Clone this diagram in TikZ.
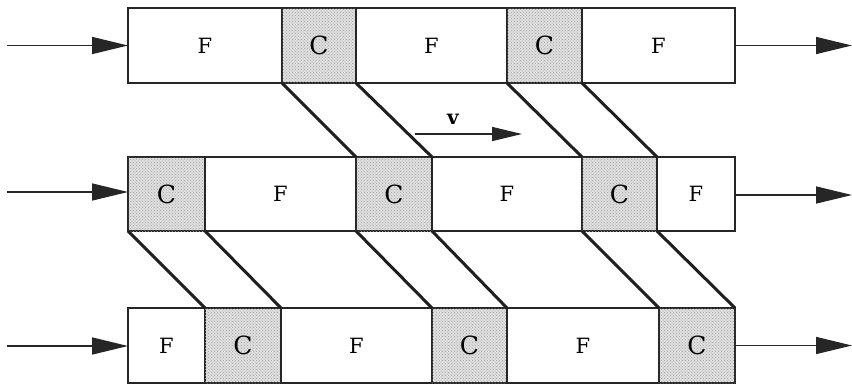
\documentclass[tikz,border=0pt]{standalone}
\usepackage{fontspec}
\setmainfont{DejaVu Serif}
\usetikzlibrary{arrows.meta,patterns}
\begin{document}
\begin{tikzpicture}[x=1pt,y=-1pt,
  cellbase/.style={draw=black!85, line width=1.9pt, inner sep=0pt, outer sep=0pt,
    font=\fontsize{21}{21}\selectfont},
  fcell/.style={cellbase, fill=white},
  ccell/.style={cellbase, fill=black!13,
    postaction={pattern=crosshatch dots, pattern color=black!35},
    font=\fontsize{25}{25}\selectfont},
  slant/.style={draw=black!88, line width=3pt},
  flow/.style={draw=black!85, line width=1.6pt, -{Triangle[length=36pt,width=17pt]}},
  vel/.style={draw=black!85, line width=1.6pt, -{Triangle[length=30pt,width=14pt]}}]
\useasboundingbox (0,0) rectangle (852,389);
% row 1
\node[fcell, minimum width=154pt, minimum height=75pt] (r1a) at (205,45.5) {F};
\node[ccell, minimum width=74pt,  minimum height=75pt] (r1b) at (319,45.5) {C};
\node[fcell, minimum width=151pt, minimum height=75pt] (r1c) at (431.5,45.5) {F};
\node[ccell, minimum width=75pt,  minimum height=75pt] (r1d) at (544.5,45.5) {C};
\node[fcell, minimum width=153pt, minimum height=75pt] (r1e) at (658.5,45.5) {F};
% row 2
\node[ccell, minimum width=77pt,  minimum height=74pt] (r2a) at (166.5,194) {C};
\node[fcell, minimum width=151pt, minimum height=74pt] (r2b) at (280.5,194) {F};
\node[ccell, minimum width=76pt,  minimum height=74pt] (r2c) at (394,194) {C};
\node[fcell, minimum width=150pt, minimum height=74pt] (r2d) at (507,194) {F};
\node[ccell, minimum width=75pt,  minimum height=74pt] (r2e) at (619.5,194) {C};
\node[fcell, minimum width=78pt,  minimum height=74pt] (r2f) at (696,194) {F};
% row 3
\node[fcell, minimum width=77pt,  minimum height=75pt] (r3a) at (166.5,345.5) {F};
\node[ccell, minimum width=76pt,  minimum height=75pt] (r3b) at (243,345.5) {C};
\node[fcell, minimum width=151pt, minimum height=75pt] (r3c) at (356.5,345.5) {F};
\node[ccell, minimum width=75pt,  minimum height=75pt] (r3d) at (469.5,345.5) {C};
\node[fcell, minimum width=152pt, minimum height=75pt] (r3e) at (583,345.5) {F};
\node[ccell, minimum width=76pt,  minimum height=75pt] (r3f) at (697,345.5) {C};
% slanted connectors row 1 -> row 2
\draw[slant] (r1a.south east) -- (r2c.north west);
\draw[slant] (r1c.south west) -- (r2d.north west);
\draw[slant] (r1d.south west) -- (r2e.north west);
\draw[slant] (r1e.south west) -- (r2f.north west);
% slanted connectors row 2 -> row 3
\draw[slant] (r2a.south west) -- (r3b.north west);
\draw[slant] (r2b.south west) -- (r3c.north west);
\draw[slant] (r2c.south west) -- (r3d.north west);
\draw[slant] (r2d.south west) -- (r3e.north west);
\draw[slant] (r2e.south west) -- (r3f.north west);
\draw[slant] (r2f.south west) -- (r3f.north east);
% input / output arrows
\coordinate (in1) at (7,45.5);
\coordinate (in2) at (7,192);
\coordinate (in3) at (7,346);
\coordinate (out1) at (852,45.5);
\coordinate (out2) at (852,195);
\coordinate (out3) at (852,345.5);
\draw[flow] (in1) -- (r1a.west);
\draw[flow] (in2) -- (r2a.west |- in2);
\draw[flow] (in3) -- (r3a.west |- in3);
\draw[flow] (r1e.east) -- (out1);
\draw[flow] (r2f.east |- out2) -- (out2);
\draw[flow] (r3f.east |- out3) -- (out3);
% velocity arrow
\coordinate (v0) at (415,134);
\coordinate (v1) at (522,134);
\draw[vel] (v0) -- (v1);
\node[font=\fontsize{20}{20}\selectfont\bfseries, inner sep=0pt] (vlab) at (453,119) {v};
\end{tikzpicture}
\end{document}
